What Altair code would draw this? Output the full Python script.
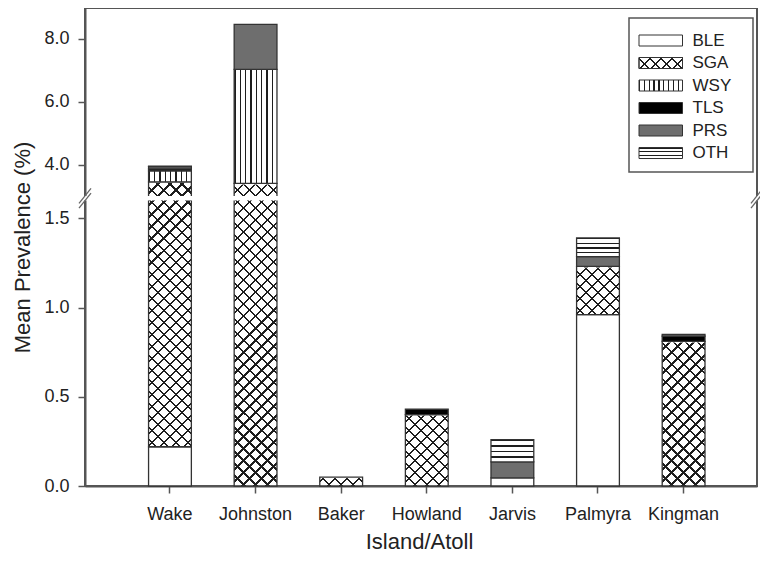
import altair as alt
import pandas as pd

# ---------------- data ----------------
islands = ["Wake", "Johnston", "Baker", "Howland", "Jarvis", "Palmyra", "Kingman"]
types = ["BLE", "SGA", "WSY", "TLS", "PRS", "OTH"]
ble = [0.22, 0.00, 0.00, 0.00, 0.045, 0.96, 0.00]
sga = [3.23, 3.40, 0.05, 0.40, 0.00, 0.27, 0.81]
wsy = [0.35, 3.62, 0.00, 0.00, 0.00, 0.00, 0.00]
tls = [0.06, 0.00, 0.00, 0.03, 0.00, 0.00, 0.03]
prs = [0.07, 1.43, 0.00, 0.00, 0.09, 0.055, 0.01]
oth = [0.02, 0.00, 0.00, 0.00, 0.125, 0.105, 0.00]
series = {"BLE": ble, "SGA": sga, "WSY": wsy, "TLS": tls, "PRS": prs, "OTH": oth}

y_ticks = [0, 0.5, 1.0, 1.5, 4.0, 6.0, 8.0]
break_low, break_high, y_top = 1.6, 3.0, 8.97

# ---------------- tables built from the arrays ----------------
rows = []
for i, isl in enumerate(islands):
    cum = 0.0
    for t in types:
        v = series[t][i]
        if v > 0:
            rows.append({"island": isl, "type": t, "y0": cum, "y1": cum + v})
            cum += v
seg = pd.DataFrame(rows)
col = pd.DataFrame({"island": islands,
                    "sga_top": [b + s for b, s in zip(ble, sga)],
                    "sga": sga})
col = col[col["sga"] > 0]

# ---------------- layout ----------------
W, H = 672, 478
LINE = "#1e1e1e"
FRAME = "#555555"
FONT = "Liberation Sans"

yscale = alt.Scale(domain=[0, break_low, break_high, y_top],
                   range=[H, 192.4, 188, 0], nice=False, zero=False)
xscale = alt.Scale(domain=islands, paddingInner=0.5, paddingOuter=0.675, align=0.55)
yaxis = alt.Axis(title="Mean Prevalence (%)", values=y_ticks, format=".1f",
                 titleX=-63, titleY=239, titleBaseline="middle", titleAlign="center",
                 titleAngle=270, labelPadding=9, tickSize=7)
xaxis = alt.Axis(title="Island/Atoll", labelAngle=0, titleX=334, titleY=55,
                 titleBaseline="middle", labelPadding=12, tickSize=7)
X = alt.X("island:N", scale=xscale, sort=islands, axis=xaxis)


def stripes(n, frac, line, bg, x1, y1, x2, y2):
    stops = []
    for i in range(n):
        a, b, c = i / n, (i + frac) / n, (i + 1) / n
        stops += [{"offset": round(a, 6), "color": line},
                  {"offset": round(b, 6), "color": line},
                  {"offset": round(b, 6), "color": bg},
                  {"offset": round(c, 6), "color": bg}]
    return {"gradient": "linear", "x1": x1, "y1": y1, "x2": x2, "y2": y2, "stops": stops}


def diag(w, h, period, frac, line, bg, flip):
    k = h / w
    s = (w + h) / (w * (1 + k * k))
    n = max(1, round((w + h) / period))
    if flip:
        return stripes(n, frac, line, bg, 1, 0, 1 - s, s * k)
    return stripes(n, frac, line, bg, 0, 0, s, s * k)


STEP = W / (7 - 0.5 + 2 * 0.675)
BW = 0.5 * STEP  # bar width of the band scale
col_top = y_top - 0.13    # hatch columns stop just below the frame
cover_top = y_top - 0.095
TRANSP = "rgba(0,0,0,0)"
hatchA = diag(BW, H - 4, 12.1, 0.19, LINE, "#ffffff", False)
hatchB = diag(BW, H - 4, 12.1, 0.19, LINE, TRANSP, True)
vert = stripes(8, 0.26, LINE, "#ffffff", 0, 0, 1, 0)
horiz = stripes(4, 0.27, LINE, "#ffffff", 0, 0, 0, 1)
fills = {"BLE": "#ffffff", "WSY": vert, "TLS": "#000000", "PRS": "#6e6e6e", "OTH": horiz}

layers = []
# crosshatch background columns for SGA
for g in (hatchA, hatchB):
    layers.append(alt.Chart(col).mark_bar(fill=g, strokeWidth=0).encode(
        x=X,
        y=alt.Y(datum=0, type="quantitative", scale=yscale, axis=yaxis),
        y2=alt.Y2(datum=col_top)))
# white cover above SGA
layers.append(alt.Chart(col).mark_bar(fill="#ffffff", stroke="#ffffff", strokeWidth=2).encode(
    x=X,
    y=alt.Y("sga_top:Q", scale=yscale, axis=yaxis),
    y2=alt.Y2(datum=cover_top)))
# stacked segments
for t in types:
    if t == "SGA":
        mk = alt.Chart(seg).mark_bar(fill="#ffffff", fillOpacity=0, stroke="#333333", strokeWidth=1.3)
    else:
        mk = alt.Chart(seg).mark_bar(fill=fills[t], stroke="#333333", strokeWidth=1.3)
    layers.append(mk.transform_filter(alt.datum.type == t).encode(
        x=X,
        y=alt.Y("y1:Q", scale=yscale, axis=yaxis),
        y2="y0:Q"))

one = pd.DataFrame({"k": [1]})
# axis break: white band and slashes
layers.append(alt.Chart(one).mark_rect(fill="#ffffff").encode(
    x=alt.value(-1), x2=alt.value(W + 1),
    y=alt.Y(datum=break_high, type="quantitative", scale=yscale, axis=yaxis),
    y2=alt.Y2(datum=break_low)))
cy = 190.2
for xc in (0, W):
    for dy in (-2.4, 2.4):
        layers.append(alt.Chart(one).mark_rule(color="#666666", strokeWidth=1.3).encode(
            x=alt.value(xc - 6), x2=alt.value(xc + 6),
            y=alt.value(cy + 7.5 + dy), y2=alt.value(cy - 7.5 + dy)))

# legend
lx0, lx1 = 544, 668
layers.append(alt.Chart(one).mark_rect(fill="#ffffff", stroke=FRAME, strokeWidth=1.5).encode(
    x=alt.value(lx0), x2=alt.value(lx1), y=alt.value(10), y2=alt.value(164)))
sw_x0, sw_x1, sw_h = lx0 + 10, lx0 + 53.5, 11
row_y = [32.5, 55, 77.5, 100, 122.5, 145]
for t, ry in zip(types, row_y):
    if t == "SGA":
        gl = [diag(sw_x1 - sw_x0, sw_h, 10.8, 0.18, LINE, "#ffffff", False),
              diag(sw_x1 - sw_x0, sw_h, 10.8, 0.18, LINE, TRANSP, True)]
    else:
        f = fills[t]
        if t == "WSY":
            f = stripes(9, 0.27, LINE, "#ffffff", 0, 0, 1, 0)
        if t == "OTH":
            f = stripes(3, 0.3, LINE, "#ffffff", 0, 0, 0, 1)
        gl = [f]
    for g in gl:
        layers.append(alt.Chart(one).mark_rect(fill=g, stroke="#333333", strokeWidth=1).encode(
            x=alt.value(sw_x0), x2=alt.value(sw_x1),
            y=alt.value(ry - sw_h / 2), y2=alt.value(ry + sw_h / 2)))
    layers.append(alt.Chart(one).mark_text(
        text=t, align="left", baseline="middle", fontSize=17, font=FONT, color="#222222").encode(
        x=alt.value(lx0 + 63.5), y=alt.value(ry)))

chart = alt.layer(*layers).properties(
    width=W, height=H,
    padding={"left": 77, "top": 0, "right": 3, "bottom": 67},
    autosize=alt.AutoSizeParams(type="none"),
).configure_view(stroke=FRAME, strokeWidth=2).configure_axis(
    domainColor=FRAME, domainWidth=2, tickColor=FRAME, tickWidth=1.5, grid=False,
    labelFont=FONT, titleFont=FONT, labelFontSize=18, titleFontSize=22,
    labelColor="#222222", titleColor="#222222", titleFontWeight="normal")

chart.save("out.html", embed_options={"renderer": "svg", "actions": False})
